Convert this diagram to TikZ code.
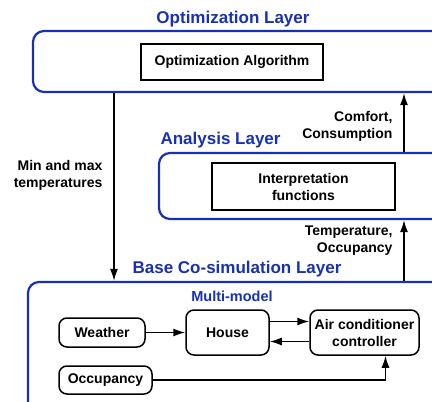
\documentclass[tikz,border=0pt]{standalone}
\usepackage{fontspec}
\setmainfont{Liberation Sans}
\usetikzlibrary{arrows.meta,positioning}
\definecolor{layerblue}{RGB}{24,48,182}

\begin{document}
\begin{tikzpicture}[
		  x=1pt, y=-1pt, >={Latex[length=12pt,width=8pt]},
		  every node/.style={font=\fontsize{14}{17}\selectfont\bfseries},
		  layer/.style={draw=layerblue, line width=2.2pt, rounded corners=11pt},
		  title/.style={text=layerblue, font=\fontsize{17}{20}\selectfont\bfseries},
		  block/.style={draw, line width=1.5pt, align=center, inner sep=2pt},
		  model/.style={block, rounded corners=8pt},
		  lbl/.style={align=right, anchor=east},
		  conn/.style={->, line width=1.5pt}
		]
		\path[use as bounding box, clip] (0,0) rectangle (432,402);
		
		% layers
		\node[layer, minimum width=430pt, minimum height=61pt] (p_opt) at (248,61.5) {};
		\node[layer, minimum width=304pt, minimum height=66pt] (p_ana) at (311,186) {};
		\node[layer, minimum width=435pt, minimum height=148pt] (p_base) at (245.5,356) {};
		
		\node[title] (t_opt) at (233,19) {Optimization Layer};
		\node[title, anchor=west] (t_ana) at (157,140) {Analysis Layer};
		\node[title] (t_base) at (237,269) {Base Co-simulation Layer};
		\node[text=layerblue, font=\fontsize{14.5}{17}\selectfont\bfseries] (t_mm) at (232,296) {Multi-model};
		
		% inner blocks
		\node[block, minimum width=182pt, minimum height=36pt] (p_alg) at (232,62) {Optimization Algorithm};
		\node[block, minimum width=183pt, minimum height=47pt] (p_interp) at (303.5,186.5) {Interpretation\\functions};
		
		\node[model, minimum width=86pt, minimum height=29pt] (m_weather) at (102,332.5) {Weather};
		\node[model, minimum width=83pt, minimum height=45pt] (m_house) at (227.5,332.5) {House};
		\node[model, minimum width=109pt, minimum height=45pt] (m_ac) at (364.5,332.5) {Air conditioner\\controller};
		\node[model, minimum width=93pt, minimum height=28pt] (m_occ) at (105.5,380) {Occupancy};
		
		% exchanges between layers
		\coordinate (c_down) at (114,0);
		\coordinate (c_up) at (404,0);
		\draw[conn] (p_opt.south -| c_down) -- (p_base.north -| c_down);
		\draw[conn] (p_ana.north -| c_up) -- (p_opt.south -| c_up);
		\draw[conn] (p_base.north -| c_up) -- (p_ana.south -| c_up);
		
		\node[lbl] (l_minmax) at (106,175) {Min and max\\temperatures};
		\node[lbl] (l_comfort) at (396,126) {Comfort,\\Consumption};
		\node[lbl] (l_temp) at (396,241) {Temperature,\\Occupancy};
		
		% multi-model links
		\draw[conn] (m_weather) -- (m_house);
		\draw[conn] ([yshift=11pt]m_house.east) -- ([yshift=11pt]m_ac.west);
		\draw[conn] ([yshift=-9pt]m_ac.west) -- ([yshift=-9pt]m_house.east);
		\draw[conn] (m_occ.east) -| ([xshift=21pt]m_ac.south);
		\end{tikzpicture}
\end{document}
